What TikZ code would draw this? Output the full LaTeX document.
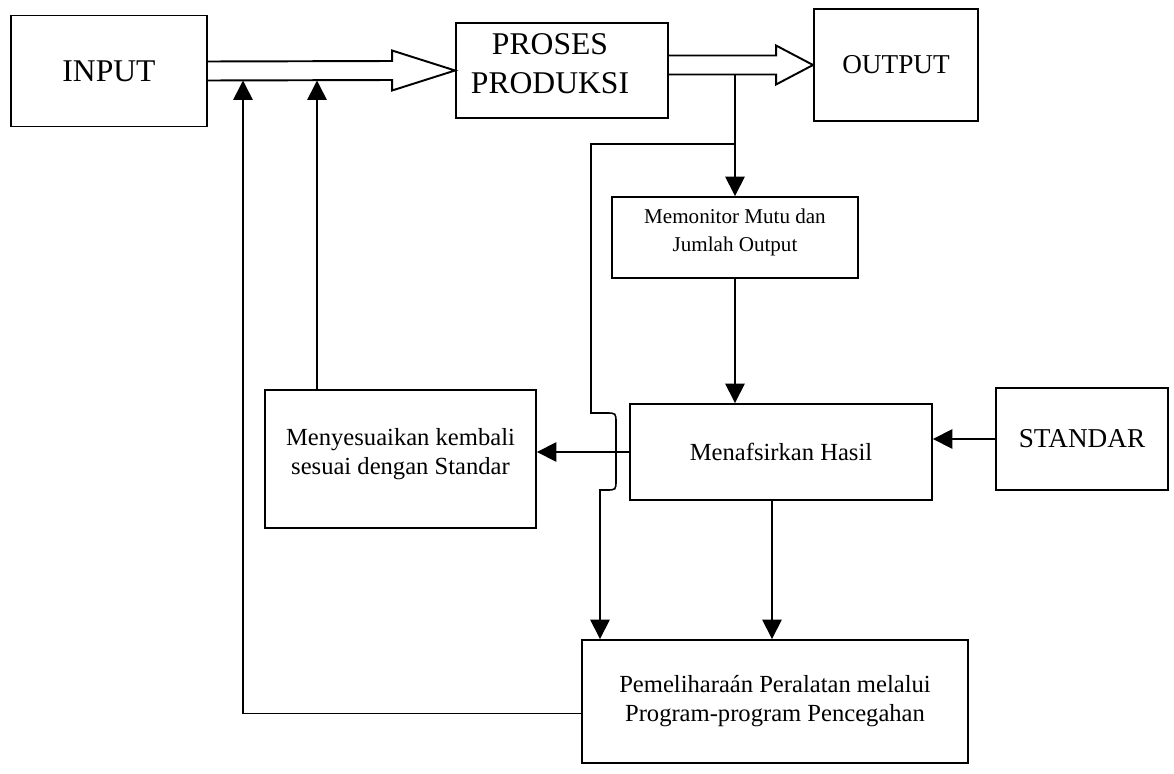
\documentclass[tikz,border=0pt]{standalone}
\usepackage{fontspec}
\setmainfont{Liberation Serif}
\usetikzlibrary{arrows.meta,calc}
\begin{document}
\begin{tikzpicture}[x=0.02cm,y=-0.02cm,
  box/.style={draw,line width=1.1pt,align=center,inner sep=2pt},
  big/.style={font=\fontsize{18}{22}\selectfont},
  mid/.style={font=\fontsize{15.5}{19}\selectfont},
  small/.style={font=\fontsize{14}{16.5}\selectfont},
  tiny/.style={font=\fontsize{12}{16}\selectfont},
  conn/.style={line width=0.9pt},
  tip/.style={-{Triangle[width=11pt,length=11pt]}},
  hollow/.style={line width=1.1pt,line join=miter}]
\useasboundingbox (0,0) rectangle (1174,774);

% boxes
\node[box,big,minimum width=3.92cm,minimum height=2.22cm] (input) at (109,71) {INPUT};
\node[box,big,minimum width=4.24cm,minimum height=1.9cm] (proses) at (562,70.5) {};
\node[big,align=center,inner sep=0pt] (prosestxt) at ($(proses.center)+(-12,-7)$) {PROSES\\PRODUKSI};
\node[box,mid,minimum width=3.28cm,minimum height=2.24cm] (output) at (896,65) {OUTPUT};
\node[box,tiny,minimum width=4.92cm,minimum height=1.62cm,text depth=8pt] (monitor) at (735,237.5) {Memonitor Mutu dan\\Jumlah Output};
\node[box,small,minimum width=6.04cm,minimum height=1.92cm] (tafsir) at (781,452) {Menafsirkan Hasil};
\node[box,small,minimum width=5.42cm,minimum height=2.76cm,text depth=9pt] (sesuai) at (400.5,459) {Menyesuaikan kembali\\sesuai dengan Standar};
\node[box,mid,minimum width=3.44cm,minimum height=2.04cm] (standar) at (1082,439) {STANDAR};
\node[box,small,minimum width=7.72cm,minimum height=2.46cm] (pelihara) at (775,701.5) {Pemeliharaán Peralatan melalui\\Program-program Pencegahan};

% hollow arrows
\draw[hollow] ($(input.east)+(0,-9.5)$) -- ($(proses.west)+(-63,-9.5)$) -- ($(proses.west)+(-63,-20)$)
  -- (proses.west) -- ($(proses.west)+(-63,20)$) -- ($(proses.west)+(-63,9.5)$) -- ($(input.east)+(0,9.5)$);
\draw[hollow] ($(proses.east |- output.west)+(0,-9.5)$) -- ($(output.west)+(-37,-9.5)$) -- ($(output.west)+(-37,-19.5)$)
  -- (output.west) -- ($(output.west)+(-37,19.5)$) -- ($(output.west)+(-37,9.5)$) -- ($(proses.east |- output.west)+(0,9.5)$);

% helper coordinates
\coordinate (split) at ($(monitor.north |- output.west)+(0,9.5)$);
\coordinate (s1b) at ($(input.east)+(0,9.5)$);
\coordinate (bt) at (591,144);
\coordinate (bl) at (600,490);
\coordinate (fbA) at (243,0);
\coordinate (fbB) at (317,0);
\coordinate (pw) at ($(pelihara.west)+(0,12)$);
\coordinate (mx) at ($(tafsir.south)+(-9,0)$);

% connectors
\draw[conn,tip] (split) -- (monitor.north);
\draw[conn,tip] (split |- bt) -- (bt) -- (591,413) -- (606,413) .. controls (616,413) .. (616,423)
  -- (616,480) .. controls (616,490) .. (606,490) -- (bl) -- (bl |- pelihara.north);
\draw[conn,tip] (monitor.south) -- (monitor.south |- tafsir.north);
\draw[conn,tip] (tafsir.west) -- (tafsir.west -| sesuai.east);
\draw[conn,tip] (standar.west) -- (standar.west -| tafsir.east);
\draw[conn,tip] (mx) -- (mx |- pelihara.north);
\draw[conn,tip] (fbB |- sesuai.north) -- (fbB |- s1b);
\draw[conn,tip] (pw) -- (pw -| fbA) -- (fbA |- s1b);
\end{tikzpicture}
\end{document}
